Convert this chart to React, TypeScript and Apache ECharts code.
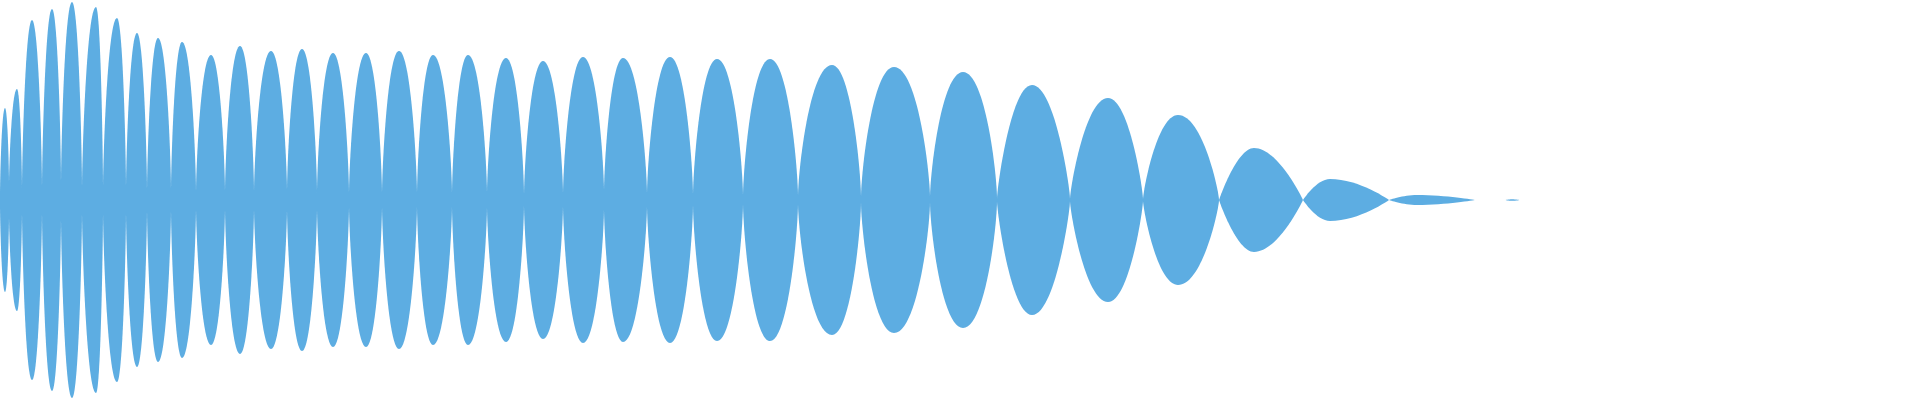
import React, { useEffect, useRef } from "react";
import * as echarts from "echarts";

// Lobe boundaries (x where the envelope pinches), in sample units
const lobeEdges = [
  0, 9, 22, 42, 61, 82, 103, 126, 147, 171, 196, 225, 254, 287, 317, 349, 382,
  417, 452, 487, 524, 563, 604, 647, 693, 743, 798, 861, 930, 997, 1070, 1143,
  1219, 1303, 1389, 1475,
];
// Residual amplitude at each pinch point
const edgeLevels = [
  4, 15, 10, 10, 15, 10, 10, 10, 8, 8, 7, 7, 7, 8, 7, 5, 5, 5, 5, 6, 4, 5, 8, 5,
  4, 3, 3, 2, 2, 1, 1, 0.5, 0, 0, 0, 0,
];
// Position of each lobe's crest
const peakPositions = [
  5, 17, 32, 52, 72, 96, 117, 137, 158, 182, 211, 240, 271, 302, 333, 366, 399,
  433, 468, 506, 543, 583, 623, 670, 717, 770, 832, 894, 963, 1032, 1108, 1178,
  1254, 1330, 1417,
];
// Crest amplitude of each lobe
const peakAmplitudes = [
  92, 111, 180, 191, 198, 193, 182, 167, 162, 158, 145, 154, 149, 151, 147, 147,
  149, 145, 145, 142, 139, 143, 142, 143, 141, 141, 135, 133, 128, 115, 102, 85,
  52, 21, 5,
];
// Trailing blip after the decay: [start, end, crest position, crest amplitude]
const tailBlip = [1505, 1520, 1512, 0.8];

const COLOR = "#5dade2";

// Curve styling of the lobe flanks (beta: base steepness, gamma: crest roundness)
function flankStyle(index: number) {
  if (index < 29) return { beta: 0.2, gamma: 0.65 };
  if (index < 32) return { beta: 0.1, gamma: 0.6 };
  return { beta: 0, gamma: 0.5 };
}

function buildLobes() {
  const rows: number[][] = [];
  for (let i = 0; i < peakPositions.length; i++) {
    rows.push([
      lobeEdges[i],
      lobeEdges[i + 1],
      peakPositions[i],
      peakAmplitudes[i],
      edgeLevels[i],
      edgeLevels[i + 1],
    ]);
  }
  rows.push([tailBlip[0], tailBlip[1], tailBlip[2], tailBlip[3], 0, 0]);
  return rows;
}

export default function App() {
  const ref = useRef<HTMLDivElement>(null);
  useEffect(() => {
    if (!ref.current) return;
    const chart = echarts.init(ref.current, undefined, { renderer: "svg" });
    const renderItem = (params: any, api: any) => {
      const z0 = api.value(0);
      const z1 = api.value(1);
      const p = api.value(2);
      const a = api.value(3);
      const m0 = api.value(4);
      const m1 = api.value(5);
      const c0 = api.coord([z0, 0]);
      const x0 = c0[0];
      const yc = c0[1];
      const x1 = api.coord([z1, 0])[0];
      const xp = api.coord([p, 0])[0];
      const hA = yc - api.coord([p, a])[1];
      const h0 = yc - api.coord([z0, m0])[1];
      const h1 = yc - api.coord([z1, m1])[1];
      const { beta, gamma } = flankStyle(params.dataIndex);
      const f = (n: number) => n.toFixed(2);
      const cpL = xp - gamma * (xp - x0);
      const cpR = xp + gamma * (x1 - xp);
      const b0 = h0 + beta * (hA - h0);
      const b1 = h1 + beta * (hA - h1);
      const d =
        `M${f(x0)},${f(yc - h0)}` +
        `C${f(x0)},${f(yc - b0)} ${f(cpL)},${f(yc - hA)} ${f(xp)},${f(yc - hA)}` +
        `C${f(cpR)},${f(yc - hA)} ${f(x1)},${f(yc - b1)} ${f(x1)},${f(yc - h1)}` +
        `L${f(x1)},${f(yc + h1)}` +
        `C${f(x1)},${f(yc + b1)} ${f(cpR)},${f(yc + hA)} ${f(xp)},${f(yc + hA)}` +
        `C${f(cpL)},${f(yc + hA)} ${f(x0)},${f(yc + b0)} ${f(x0)},${f(yc + h0)}` +
        `Z`;
      return {
        type: "path",
        shape: { pathData: d },
        style: { fill: COLOR, stroke: null },
      };
    };
    chart.setOption({
      animation: false,
      grid: { left: 0, right: 0, top: 0, bottom: 0 },
      xAxis: { type: "value", min: 0, max: 1920, show: false },
      yAxis: { type: "value", min: -200, max: 200, show: false },
      series: [
        {
          type: "custom",
          name: "envelope",
          silent: true,
          renderItem,
          clip: true,
          encode: { x: [0, 1, 2], y: [3] },
          data: buildLobes(),
        },
      ],
    });
    return () => chart.dispose();
  }, []);
  return (
    <div
      ref={ref}
      style={{ position: "absolute", left: 0, top: 0, width: 1920, height: 400 }}
    />
  );
}
